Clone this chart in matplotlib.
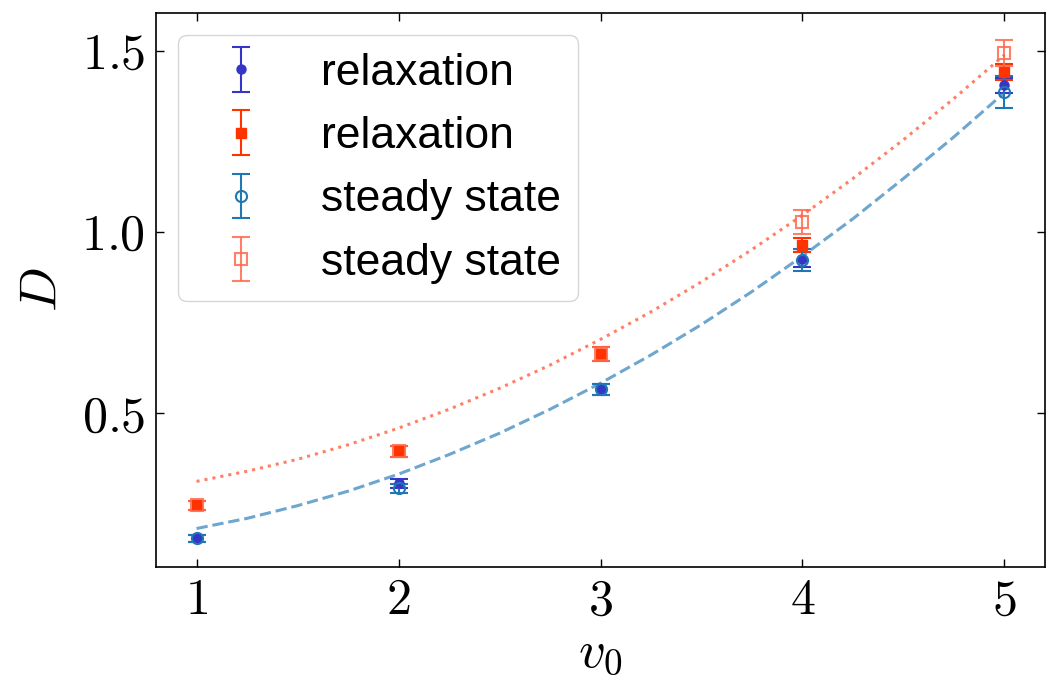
import numpy as np
import matplotlib
matplotlib.use("Agg")
import matplotlib.pyplot as plt
from matplotlib.ticker import FormatStrFormatter

plt.rcParams['mathtext.fontset'] = 'cm'
plt.rcParams['font.family'] = ['Liberation Sans', 'DejaVu Sans']

# data
v0 = [1, 2, 3, 4, 5]

relax_a = [0.155, 0.307, 0.566, 0.925, 1.405]
relax_a_err = [0.010, 0.012, 0.015, 0.020, 0.020]

relax_b = [0.246, 0.395, 0.663, 0.964, 1.442]
relax_b_err = [0.012, 0.015, 0.020, 0.020, 0.023]

steady_a = [0.155, 0.293, 0.566, 0.923, 1.387]
steady_a_err = [0.010, 0.012, 0.015, 0.030, 0.044]

steady_b = [0.246, 0.395, 0.663, 1.028, 1.494]
steady_b_err = [0.012, 0.015, 0.020, 0.032, 0.036]

# fit curves (read at quarter steps)
fit_v = [1, 1.25, 1.5, 1.75, 2, 2.25, 2.5, 2.75, 3,
         3.25, 3.5, 3.75, 4, 4.25, 4.5, 4.75, 5]
fit_a = [0.182, 0.210, 0.245, 0.285, 0.332, 0.386, 0.445, 0.511, 0.583,
         0.661, 0.745, 0.836, 0.934, 1.037, 1.148, 1.263, 1.385]
fit_b = [0.312, 0.340, 0.373, 0.413, 0.459, 0.511, 0.569, 0.633, 0.704,
         0.780, 0.863, 0.952, 1.047, 1.148, 1.255, 1.369, 1.489]

fig = plt.figure(figsize=(10.48, 6.81), dpi=100)
ax = fig.add_axes([0.149, 0.167, 0.848, 0.814])

ekw = dict(capsize=6.5, elinewidth=1.5, capthick=1.5, linestyle='none')
ax.errorbar(v0, relax_a, yerr=relax_a_err, fmt='o', color='#3535c8', markersize=6.5,
            label='relaxation', **ekw)
ax.errorbar(v0, relax_b, yerr=relax_b_err, fmt='s', color='#ff3300', markersize=6.5,
            label='relaxation', **ekw)
ax.errorbar(v0, steady_a, yerr=steady_a_err, fmt='o', color='#1f77b4', mfc='none',
            markersize=8, mew=1.5, label='steady state', **ekw)
ax.errorbar(v0, steady_b, yerr=steady_b_err, fmt='s', color='#ff6a4d', mfc='none',
            markersize=8, mew=1.5, alpha=0.85, label='steady state', **ekw)

ax.plot(fit_v, fit_a, '--', color='#1f77b4', alpha=0.65, lw=2.2)
ax.plot(fit_v, fit_b, ':', color='#ff5533', alpha=0.75, lw=2.2)

ax.set_xlim(0.8, 5.2)
ax.set_ylim(0.075, 1.605)
ax.set_xticks(v0)
ax.set_yticks([0.5, 1.0, 1.5])
ax.xaxis.set_major_formatter(FormatStrFormatter('$%d$'))
ax.yaxis.set_major_formatter(FormatStrFormatter('$%.1f$'))
ax.tick_params(direction='in', top=True, right=True, length=6, width=1.0,
               labelsize=36, pad=8)
for s in ax.spines.values():
    s.set_linewidth(1.2)

ax.set_xlabel('$v_0$', fontsize=38, labelpad=2)
ax.set_ylabel('$D$', fontsize=38, labelpad=10)

ax.legend(loc='upper left', fontsize=32)

fig.savefig('out.png', dpi=100)
